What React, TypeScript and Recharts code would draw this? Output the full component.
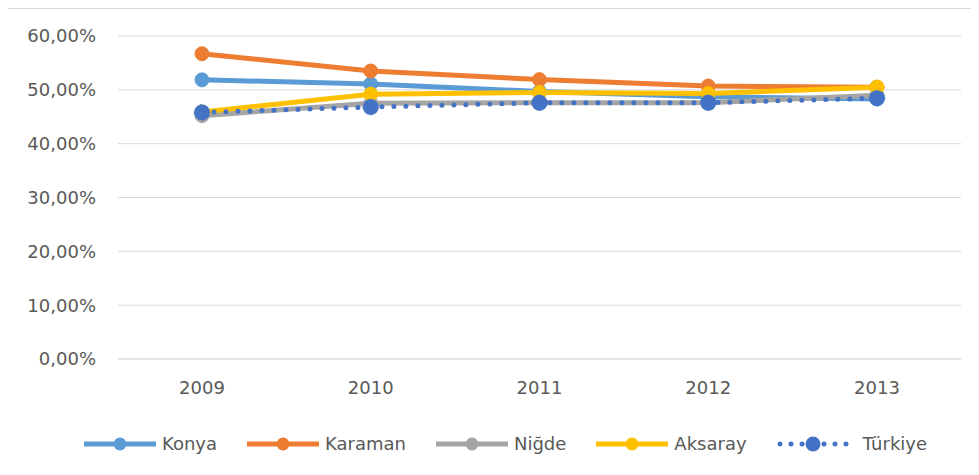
import React from "react";
import { LineChart, Line, XAxis, YAxis, CartesianGrid, Legend } from "recharts";

const years = ["2009", "2010", "2011", "2012", "2013"];
const konya = [51.85, 51.1, 49.7, 48.7, 48.3];
const karaman = [56.7, 53.5, 51.9, 50.7, 50.5];
const nigde = [45.2, 47.5, 47.6, 47.6, 49.0];
const aksaray = [45.9, 49.2, 49.5, 49.3, 50.5];
const turkiye = [45.8, 46.8, 47.6, 47.6, 48.45];
const yTicks = [0, 10, 20, 30, 40, 50, 60];

const seriesDefs = [
  { key: "Konya", values: konya, color: "#5B9BD5", dotted: false },
  { key: "Karaman", values: karaman, color: "#ED7D31", dotted: false },
  { key: "Niğde", values: nigde, color: "#A5A5A5", dotted: false },
  { key: "Aksaray", values: aksaray, color: "#FFC000", dotted: false },
  { key: "Türkiye", values: turkiye, color: "#4472C4", dotted: true },
];

const data = years.map((y, i) => {
  const row: Record<string, any> = { year: y };
  seriesDefs.forEach((s) => (row[s.key] = s.values[i]));
  return row;
});

const FONT = "'DejaVu Sans', sans-serif";
const fmt = (v: number) => v.toFixed(2).replace(".", ",") + "%";

const LegendContent = () => (
  <div
    style={{
      height: 56,
      display: "flex",
      alignItems: "center",
      paddingLeft: 76,
      paddingBottom: 6,
      boxSizing: "border-box",
      fontFamily: FONT,
      fontSize: 18,
      color: "#595959",
    }}
  >
    {seriesDefs.map((s) => (
      <div key={s.key} style={{ display: "flex", alignItems: "center", marginRight: 30 }}>
        <svg width={72} height={18} style={{ display: "block" }}>
          {s.dotted ? (
            <line x1={3} y1={9} x2={70} y2={9} stroke={s.color} strokeWidth={5} strokeLinecap="round" strokeDasharray="0 11" />
          ) : (
            <line x1={0} y1={9} x2={72} y2={9} stroke={s.color} strokeWidth={5} />
          )}
          <circle cx={36} cy={9} r={s.dotted ? 7.5 : 6.5} fill={s.color} />
        </svg>
        <span style={{ marginLeft: s.dotted ? 14 : 6, lineHeight: "18px" }}>{s.key}</span>
      </div>
    ))}
  </div>
);

export default function App() {
  return (
    <div style={{ width: 971, height: 467, borderTop: "1px solid #d9d9d9", borderLeft: "1px solid #d9d9d9", marginLeft: -1, background: "#fff" }}>
      <LineChart
        width={971}
        height={466}
        data={data}
        margin={{ top: 27, right: 18, left: 0, bottom: 0 }}
        style={{ fontFamily: FONT }}
      >
        <CartesianGrid vertical={false} stroke="#d9d9d9" strokeWidth={1} />
        <XAxis
          dataKey="year"
          padding={{ left: 84, right: 84 }}
          axisLine={{ stroke: "#d9d9d9" }}
          tickLine={false}
          tickSize={0}
          tickMargin={22}
          height={60}
          tick={{ fill: "#595959", fontSize: 18, fontFamily: FONT }}
        />
        <YAxis
          domain={[0, 60]}
          ticks={yTicks}
          tickFormatter={fmt}
          axisLine={false}
          tickLine={false}
          tickSize={0}
          tickMargin={22}
          width={110}
          interval={0}
          tick={{ fill: "#595959", fontSize: 18, fontFamily: FONT }}
        />
        <Legend verticalAlign="bottom" align="left" content={<LegendContent />} />
        {seriesDefs.map((s) => (
          <Line
            key={s.key}
            type="linear"
            dataKey={s.key}
            stroke={s.color}
            strokeWidth={5}
            strokeLinecap="round"
            strokeDasharray={s.dotted ? "0 12" : undefined}
            dot={{ r: s.dotted ? 8 : 7, fill: s.color, stroke: s.color, strokeWidth: 1 }}
            activeDot={false}
            isAnimationActive={false}
          />
        ))}
      </LineChart>
    </div>
  );
}
